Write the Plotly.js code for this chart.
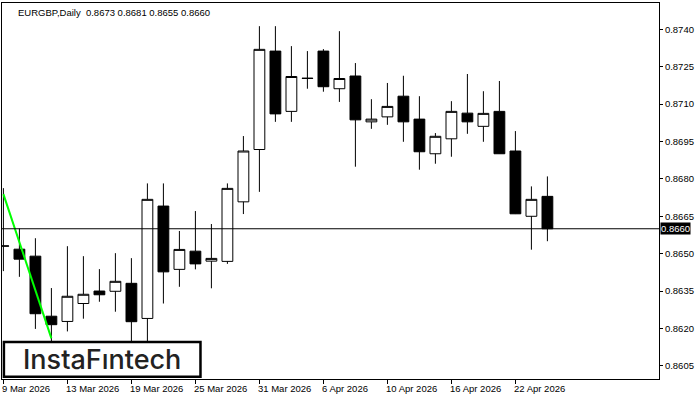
<!DOCTYPE html>
<html>
<head>
<meta charset="utf-8">
<script src="https://cdn.plot.ly/plotly-3.0.1.min.js"></script>
<style>
html,body{margin:0;padding:0;background:#fff;}
#chart{width:700px;height:400px;}
</style>
</head>
<body>
<div id="chart"></div>
<script>
// ---- data ----
const symbolTitle = 'EURGBP,Daily\u00a0 0.8673 0.8681 0.8655 0.8660';
const openP  = [0.86530,0.86518,0.86490,0.86249,0.86228,0.86300,0.86350,0.86349,0.86381,0.86240,
                0.86691,0.86437,0.86510,0.86470,0.86469,0.86708,0.86918,0.87313,0.87071,0.87203,
                0.87313,0.87162,0.87213,0.87029,0.87049,0.87132,0.87040,0.86901,0.86961,0.87064,
                0.87011,0.87071,0.86912,0.86650,0.8673];
const highP  = [0.86763,0.86601,0.86562,0.86362,0.86530,0.86490,0.86438,0.86502,0.86482,0.86782,
                0.86782,0.86591,0.86671,0.86619,0.86782,0.86972,0.87413,0.87413,0.87333,0.87313,
                0.87321,0.87393,0.87265,0.87120,0.87185,0.87214,0.87132,0.86984,0.87112,0.87221,
                0.87152,0.87193,0.86992,0.86770,0.8681];
const lowP   = [0.86430,0.86407,0.86198,0.86133,0.86188,0.86239,0.86307,0.86267,0.86120,0.86110,
                0.86300,0.86367,0.86437,0.86361,0.86459,0.86659,0.86748,0.87029,0.87029,0.87162,
                0.87150,0.87109,0.86849,0.87001,0.87017,0.86949,0.86837,0.86861,0.86889,0.86981,
                0.86949,0.86900,0.86659,0.86516,0.8655];
const closeP = [0.86531,0.86478,0.86259,0.86215,0.86329,0.86337,0.86335,0.86389,0.86227,0.86718,
                0.86427,0.86517,0.86459,0.86481,0.86762,0.86912,0.87320,0.87061,0.87211,0.87204,
                0.87170,0.87203,0.87037,0.87040,0.87091,0.87029,0.86909,0.86971,0.87071,0.87029,
                0.87063,0.86901,0.86660,0.86718,0.8660];
const dateLabels = ['9 Mar 2026','13 Mar 2026','19 Mar 2026','25 Mar 2026','31 Mar 2026',
                    '6 Apr 2026','10 Apr 2026','16 Apr 2026','22 Apr 2026'];
const priceTicks = [0.8605,0.8620,0.8635,0.8650,0.8665,0.8680,0.8695,0.8710,0.8725,0.8740];
const trendBars = [0, 3];
const trendPrices = [0.86739, 0.86160];
const lastPrice = 0.8660;
const logoText = 'InstaFıntech';

// ---- build ----
const bars = openP.map((_, i) => i);
const labelEvery = 4;
const labelBars = dateLabels.map((_, i) => i * labelEvery);
const smallFont = {family:'Liberation Sans, Arial, sans-serif', size:9.5, color:'#000'};

const traces = [
  {
    type:'candlestick', x:bars, open:openP, high:highP, low:lowP, close:closeP,
    increasing:{line:{color:'#000', width:1}, fillcolor:'#fff'},
    decreasing:{line:{color:'#000', width:1}, fillcolor:'#000'},
    whiskerwidth:0, hoverinfo:'skip', showlegend:false
  },
  {
    type:'scatter', mode:'lines', x:trendBars, y:trendPrices,
    line:{color:'#00ff00', width:2}, hoverinfo:'skip', showlegend:false
  }
];

const annotations = [
  {xref:'paper', yref:'paper', x:0, y:1, xanchor:'left', yanchor:'top', xshift:14, yshift:-2,
   text:symbolTitle, showarrow:false, font:smallFont},
  {xref:'paper', yref:'y', x:1, y:lastPrice, xanchor:'left', yanchor:'middle', xshift:1,
   text:lastPrice.toFixed(4), showarrow:false, bgcolor:'#000', borderpad:0,
   font:{family:'Liberation Sans, Arial, sans-serif', size:9.5, color:'#fff'}},
  {xref:'paper', yref:'paper', x:0.1517, y:0.053, xanchor:'center', yanchor:'middle',
   text:logoText, showarrow:false, font:{family:'Inter, sans-serif', size:27, weight:500, color:'#222'}}
];
labelBars.forEach((b, i) => {
  annotations.push({xref:'x', yref:'paper', x:b, y:0, xanchor:'left', yanchor:'top',
    xshift:-3, yshift:-2, text:dateLabels[i], showarrow:false, font:smallFont});
});

const layout = {
  width:700, height:400,
  margin:{l:2, r:41, t:3, b:21, pad:0},
  paper_bgcolor:'#fff', plot_bgcolor:'#fff',
  showlegend:false,
  boxgap:0.1, boxgroupgap:0.25,
  xaxis:{range:[-0.0875, 40.975], showgrid:false, zeroline:false, showline:true, mirror:true,
         linecolor:'#000', linewidth:1, ticks:'outside', ticklen:4, tickcolor:'#000',
         tickvals:labelBars, showticklabels:false, rangeslider:{visible:false}, fixedrange:true},
  yaxis:{range:[0.85997, 0.87506], side:'right', showgrid:false, zeroline:false, showline:true,
         mirror:true, linecolor:'#000', linewidth:1, ticks:'outside', ticklen:3, tickcolor:'#000',
         tickvals:priceTicks, ticktext:priceTicks.map(v => v.toFixed(4)), tickfont:smallFont,
         fixedrange:true},
  shapes:[
    {type:'line', xref:'paper', yref:'y', x0:0, x1:1, y0:lastPrice, y1:lastPrice,
     line:{color:'#000', width:1}, layer:'above'},
    {type:'rect', xref:'paper', yref:'paper', x0:0.0029, x1:0.3021, y0:0.0059, y1:0.0987,
     fillcolor:'#fff', line:{color:'#000', width:2.5}, layer:'above'}
  ],
  annotations:annotations
};

Plotly.newPlot('chart', traces, layout, {staticPlot:true, displayModeBar:false});
</script>
</body>
</html>
